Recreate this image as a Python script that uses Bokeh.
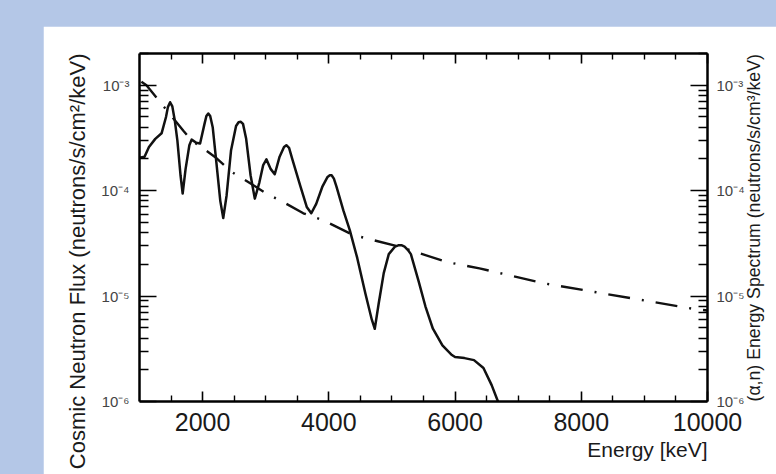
from math import pi
from bokeh.plotting import figure
from bokeh.layouts import row, column
from bokeh.models import (LinearAxis, LogAxis, FixedTicker, CustomJSTickFormatter,
                          Title, Spacer)
from bokeh.embed import file_html
from bokeh.resources import INLINE

# ---- data ----
flux_energy = [1000, 1080, 1150, 1250, 1350, 1420, 1450, 1485, 1520, 1560, 1600, 1650,
               1684, 1730, 1790, 1826, 1900, 1960, 2030, 2060, 2090, 2120, 2160, 2220,
               2280, 2327, 2380, 2450, 2530, 2570, 2606, 2640, 2690, 2760, 2827, 2900,
               2960, 3011, 3080, 3143, 3220, 3290, 3327, 3370, 3420, 3550, 3650, 3722,
               3800, 3900, 3980, 4015, 4044, 4080, 4120, 4230, 4333, 4450, 4580, 4680,
               4728, 4790, 4870, 4950, 5050, 5100, 5150, 5200, 5250, 5300, 5420, 5530,
               5649, 5800, 5950, 6000, 6150, 6300, 6450, 6580, 6680, 6750]
flux_values = [2.05e-4, 2.1e-4, 2.6e-4, 3.1e-4, 3.5e-4, 5.0e-4, 6.2e-4, 6.9e-4, 6.3e-4,
               4.6e-4, 3.0e-4, 1.4e-4, 9.4e-5, 1.6e-4, 2.7e-4, 3.05e-4, 2.85e-4, 2.8e-4,
               4.3e-4, 5.1e-4, 5.4e-4, 5.1e-4, 4.0e-4, 1.8e-4, 8.0e-5, 5.5e-5, 9.0e-5,
               2.4e-4, 4.1e-4, 4.45e-4, 4.5e-4, 4.3e-4, 3.1e-4, 1.4e-4, 8.4e-5, 1.2e-4,
               1.75e-4, 1.98e-4, 1.6e-4, 1.43e-4, 2.1e-4, 2.6e-4, 2.7e-4, 2.55e-4,
               2.0e-4, 1.1e-4, 7.0e-5, 6.1e-5, 7.5e-5, 1.1e-4, 1.35e-4, 1.4e-4, 1.4e-4,
               1.3e-4, 1.1e-4, 6.5e-5, 4.2e-5, 2.3e-5, 1.05e-5, 6.0e-6, 4.9e-6, 8.5e-6,
               1.65e-5, 2.5e-5, 2.95e-5, 3.03e-5, 3.04e-5, 2.95e-5, 2.75e-5, 2.5e-5,
               1.4e-5, 8.0e-6, 4.9e-6, 3.4e-6, 2.76e-6, 2.64e-6, 2.58e-6, 2.47e-6,
               2.08e-6, 1.43e-6, 1.0e-6, 8.0e-7]

spec_energy = [1030, 1110, 1695, 1826, 2196, 2458, 2722, 3011, 3275, 3596, 3907, 4386,
               5123, 5860, 6387, 7414, 9757, 10000]
spec_values = [1.08e-3, 1.0e-3, 3.7e-4, 3.0e-4, 2.09e-4, 1.51e-4, 1.21e-4, 9.4e-5, 7.8e-5,
               6.1e-5, 5.25e-5, 3.8e-5, 2.93e-5, 2.11e-5, 1.83e-5, 1.32e-5, 7.6e-6, 7.3e-6]

x_major = [2000, 4000, 6000, 8000, 10000]
x_minor = [1500, 2500, 3000, 3500, 4500, 5000, 5500, 6500, 7000, 7500, 8500, 9000, 9500]
y_major = [1e-6, 1e-5, 1e-4, 1e-3]
y_minor = [m * d for d in (1e-6, 1e-5, 1e-4) for m in range(2, 10)] + [2e-3]

left_title = "Cosmic Neutron Flux (neutrons/s/cm\u00b2/keV)"
right_title = "(\u03b1,n) Energy Spectrum (neutrons/s/cm\u00b3/keV)"
x_title = "Energy [keV]"

BLUE = "#b4c7e7"
FONT = "Liberation Sans"

# white picture panel: starts at (43, 26) of the page, reaches the right and bottom edges
W, H = 776 - 43, 474 - 26
p = figure(width=W, height=H, x_range=(1000, 10000), y_range=(1e-6, 2.0e-3),
           y_axis_type="log", output_backend="svg", toolbar_location=None,
           title_location=None,
           min_border_left=96, min_border_right=68, min_border_top=27,
           min_border_bottom=73)
p.border_fill_color = "white"
p.background_fill_color = "white"
p.outline_line_color = None
p.grid.visible = False

xt = FixedTicker(ticks=x_major, minor_ticks=x_minor)
yt = FixedTicker(ticks=y_major, minor_ticks=y_minor)

sup = CustomJSTickFormatter(code="""
const e = Math.round(Math.log10(tick));
const m = {'-':'\u207b','0':'\u2070','1':'\u00b9','2':'\u00b2','3':'\u00b3','4':'\u2074',
           '5':'\u2075','6':'\u2076','7':'\u2077','8':'\u2078','9':'\u2079'};
return '10' + String(e).split('').map(c => m[c]).join('');
""")
blank = CustomJSTickFormatter(code="return '';")


def style(ax, major, minor):
    ax.axis_line_width = 2.5
    ax.axis_line_color = "black"
    ax.major_tick_line_width = 1.6
    ax.minor_tick_line_width = 1.4
    ax.major_tick_line_color = "black"
    ax.minor_tick_line_color = "black"
    ax.major_tick_in = major
    ax.major_tick_out = 0
    ax.minor_tick_in = minor
    ax.minor_tick_out = 0
    ax.major_label_text_font = FONT


bx = p.xaxis[0]
bx.ticker = xt
style(bx, 10, 6)
bx.major_label_text_font_size = "25px"
bx.major_label_text_color = "#1a1a1a"
bx.major_label_standoff = 11

ly = p.yaxis[0]
ly.ticker = yt
ly.formatter = sup
style(ly, 17, 9)
ly.major_label_text_font_size = "15px"
ly.major_label_text_color = "#444444"
ly.major_label_standoff = 10

top = LinearAxis(ticker=xt, formatter=blank)
style(top, 10, 6)
top.major_label_text_font_size = "1px"
p.add_layout(top, "above")

ry = LogAxis(ticker=yt, formatter=sup)
style(ry, 17, 9)
ry.major_label_text_font_size = "15px"
ry.major_label_text_color = "#444444"
ry.major_label_standoff = 9
ry.axis_label = right_title
ry.axis_label_text_font = FONT
ry.axis_label_text_font_size = "17.7px"
ry.axis_label_text_font_style = "normal"
ry.axis_label_text_color = "#1a1a1a"
ry.axis_label_standoff = 6
try:
    ry.axis_label_orientation = pi / 2
except Exception:
    pass
try:
    ry.axis_label_align = "start"
except Exception:
    pass
p.add_layout(ry, "right")

p.line(spec_energy, spec_values, line_color="#111111", line_width=2.4,
       line_dash="22 12 2 12")
p.line(flux_energy, flux_values, line_color="#111111", line_width=2.5,
       line_join="round")

p.add_layout(Title(text=left_title, align="right", text_font=FONT,
                   text_font_size="22px", text_font_style="normal",
                   text_color="#1a1a1a", standoff=18), "left")
p.add_layout(Title(text=x_title, align="right", text_font=FONT,
                   text_font_size="21px", text_font_style="normal",
                   text_color="#1a1a1a", standoff=5), "below")

layout = column(Spacer(width=776, height=26),
                row(Spacer(width=43, height=H), p))

html = None
try:
    from bokeh.core.templates import get_env
    tmpl = get_env().from_string(
        '{% extends "file.html" %}{% block preamble %}'
        '<style>html,body{background:' + BLUE + ';}</style>{% endblock %}')
    html = file_html(layout, INLINE, template=tmpl)
except Exception:
    html = file_html(layout, INLINE)

open("out.html", "w").write(html)
